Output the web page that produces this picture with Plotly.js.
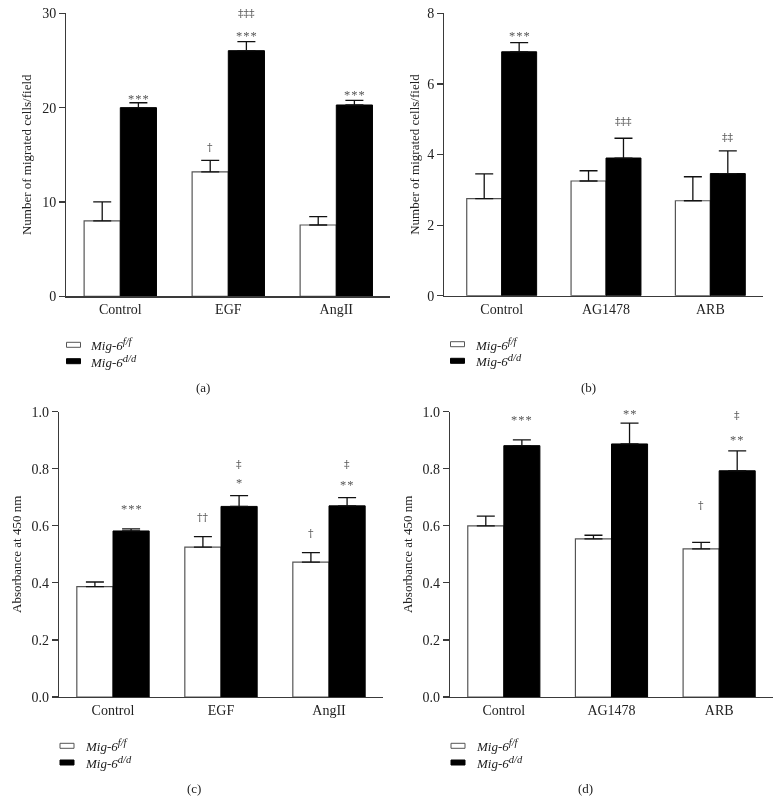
<!DOCTYPE html>
<html><head><meta charset="utf-8">
<script src="https://cdn.plot.ly/plotly-3.0.1.min.js"></script>
<style>html,body{margin:0;padding:0;background:#fff}#chart{width:782px;height:802px;filter:grayscale(1)}</style>
</head><body><div id="chart"></div>
<script>
// ---------------- DATA ----------------
const catsA = ['Control', 'EGF', 'AngII'];
const catsB = ['Control', 'AG1478', 'ARB'];
const seriesNames = ['<i>Mig-6<sup><span style="font-size:10.5px">f/f</span></sup></i>', '<i>Mig-6<sup><span style="font-size:10.5px">d/d</span></sup></i>'];

// (a) migrated cells / field
const aWhite = [8.0, 13.2, 7.56];
const aWhiteErr = [2.0, 1.2, 0.88];
const aBlack = [20.0, 26.04, 20.28];
const aBlackErr = [0.52, 0.96, 0.5];
const aSigWhite = ['', '†', ''];
const aSigBlack = ['***', '***', '***'];
const aSigBlack2 = ['', '‡‡‡', ''];

// (b) migrated cells / field
const bWhite = [2.75, 3.25, 2.69];
const bWhiteErr = [0.70, 0.29, 0.68];
const bBlack = [6.91, 3.90, 3.46];
const bBlackErr = [0.26, 0.56, 0.64];
const bSigWhite = ['', '', ''];
const bSigBlack = ['***', '‡‡‡', '‡‡'];
const bSigBlack2 = ['', '', ''];

// (c) absorbance at 450 nm
const cWhite = [0.387, 0.525, 0.473];
const cWhiteErr = [0.016, 0.037, 0.033];
const cBlack = [0.582, 0.668, 0.670];
const cBlackErr = [0.007, 0.038, 0.029];
const cSigWhite = ['', '††', '†'];
const cSigBlack = ['***', '*', '**'];
const cSigBlack2 = ['', '‡', '‡'];

// (d) absorbance at 450 nm
const dWhite = [0.600, 0.554, 0.519];
const dWhiteErr = [0.034, 0.013, 0.023];
const dBlack = [0.881, 0.887, 0.793];
const dBlackErr = [0.020, 0.073, 0.070];
const dSigWhite = ['', '', '†'];
const dSigBlack = ['***', '**', '**'];
const dSigBlack2 = ['', '', '‡'];

const yTitleA = 'Number of migrated cells/field';
const yTitleC = 'Absorbance at 450 nm';
const panelLabels = ['(a)', '(b)', '(c)', '(d)'];

// ---------------- STYLE / LAYOUT ----------------
const W = 782, H = 802;
const px = x => x / W, py = y => 1 - y / H;
const FONT = 'Liberation Serif, Times New Roman, serif';
const AX = '#3a3a3a';

const panels = [
  { cats: catsA, w: aWhite, we: aWhiteErr, b: aBlack, be: aBlackErr,
    sw: aSigWhite, sb: aSigBlack, sb2: aSigBlack2, title: yTitleA,
    xd: [66.3, 390.3], yd: [296.3, 13.3], xr: [-0.5, 2.5], yr: [0, 30], dtick: 10, fmt: 'd', standoff: 7,
    offW: [0, 13.3, 0], offB: [6, 7.2, 7], offB2: [0, 27.9, 0],
    leg: { bx: 66.5, tx: 88, y1: 344.8, y2: 361.2 }, lab: [202.5, 387] },
  { cats: catsB, w: bWhite, we: bWhiteErr, b: bBlack, be: bBlackErr,
    sw: bSigWhite, sb: bSigBlack, sb2: bSigBlack2, title: yTitleA,
    xd: [444.3, 762.5], yd: [295.7, 13.3], xr: [-0.55, 2.5], yr: [0, 8], dtick: 2, fmt: 'd', standoff: 4,
    offW: [0, 0, 0], offB: [8.5, 16.3, 13], offB2: [0, 0, 0],
    leg: { bx: 450.5, tx: 472.5, y1: 344.2, y2: 360.8 }, lab: [588, 387] },
  { cats: catsA, w: cWhite, we: cWhiteErr, b: cBlack, be: cBlackErr,
    sw: cSigWhite, sb: cSigBlack, sb2: cSigBlack2, title: yTitleC,
    xd: [59, 383], yd: [697, 411.7], xr: [-0.5, 2.5], yr: [0, 1.0], dtick: 0.2, fmt: '.1f', standoff: 7,
    offW: [0, 19.4, 19.4], offB: [22.3, 14.7, 15], offB2: [0, 30.7, 32.7],
    leg: { bx: 60, tx: 83, y1: 745.8, y2: 762.5 }, lab: [194, 788] },
  { cats: catsB, w: dWhite, we: dWhiteErr, b: dBlack, be: dBlackErr,
    sw: dSigWhite, sb: dSigBlack, sb2: dSigBlack2, title: yTitleC,
    xd: [450, 773], yd: [697, 411.7], xr: [-0.5, 2.5], yr: [0, 1.0], dtick: 0.2, fmt: '.1f', standoff: 7,
    offW: [0, 0, 37.3], offB: [21.7, 11, 12.4], offB2: [0, 0, 35],
    leg: { bx: 451, tx: 474, y1: 745.8, y2: 762.5 }, lab: [585.5, 788] }
];

const traces = [];
const layout = {
  width: W, height: H, margin: { l: 0, r: 0, t: 0, b: 0 },
  paper_bgcolor: '#fff', plot_bgcolor: '#fff',
  barmode: 'group', bargap: 0.33, bargroupgap: 0,
  showlegend: false, hovermode: false,
  font: { family: FONT, size: 13, color: '#222' },
  annotations: [], shapes: []
};

const BAR_OFF = 0.1675;
const fmtMark = t => /^\*+$/.test(t) ? t.split('').join('\u200A') : t;

panels.forEach((p, k) => {
  const n = k === 0 ? '' : String(k + 1);
  const xa = 'x' + n, ya = 'y' + n;
  const zeros = p.cats.map(() => 0);
  traces.push({
    type: 'bar', name: 'Mig-6 f/f', x: p.cats, y: p.w, xaxis: xa, yaxis: ya,
    marker: { color: '#ffffff', line: { color: '#555', width: 1.2 } },
    error_y: { type: 'data', symmetric: false, array: p.we, arrayminus: zeros, color: '#111', thickness: 1.3, width: 9 }
  });
  traces.push({
    type: 'bar', name: 'Mig-6 d/d', x: p.cats, y: p.b, xaxis: xa, yaxis: ya,
    marker: { color: '#000000', line: { color: '#000', width: 1 } },
    error_y: { type: 'data', symmetric: false, array: p.be, arrayminus: zeros, color: '#111', thickness: 1.3, width: 9 }
  });
  layout['xaxis' + n] = {
    domain: [px(p.xd[0]), px(p.xd[1])], range: p.xr, type: 'category', anchor: ya,
    showline: true, linecolor: AX, linewidth: 1.2, ticks: '', showgrid: false, zeroline: false,
    tickfont: { family: FONT, size: 14, color: '#222' }, fixedrange: true
  };
  layout['yaxis' + n] = {
    domain: [py(p.yd[0]), py(p.yd[1])], range: p.yr, anchor: xa,
    dtick: p.dtick, tick0: 0, tickformat: p.fmt,
    showline: true, linecolor: AX, linewidth: 1.2, ticks: 'outside', ticklen: 6, tickcolor: AX, tickwidth: 1.2,
    showgrid: false, zeroline: false, fixedrange: true,
    tickfont: { family: FONT, size: 14, color: '#222' },
    title: { text: p.title, font: { family: FONT, size: 13, color: '#222' }, standoff: p.standoff }
  };
  // significance marks
  const addMark = (txt, xi, yv, off) => {
    if (!txt) return;
    const isStar = /\*/.test(txt);
    layout.annotations.push({
      xref: xa, yref: ya, x: xi, y: yv, yshift: off - (isStar ? 2 : 0),
      text: fmtMark(txt), showarrow: false, xanchor: 'center', yanchor: 'middle',
      font: { family: isStar ? FONT : 'DejaVu Serif, ' + FONT, size: isStar ? 12.5 : 11, color: '#555' }
    });
  };
  p.cats.forEach((c, i) => {
    addMark(p.sw[i], i - BAR_OFF, p.w[i] + p.we[i], p.offW[i]);
    addMark(p.sb[i], i + BAR_OFF, p.b[i] + p.be[i], p.offB[i]);
    addMark(p.sb2[i], i + BAR_OFF, p.b[i] + p.be[i], p.offB2[i]);
  });
  // legend (custom)
  const L = p.leg;
  [[L.y1, '#fff', '#555', seriesNames[0]], [L.y2, '#000', '#000', seriesNames[1]]].forEach(([yy, fc, lc, txt]) => {
    layout.shapes.push({
      type: 'rect', xref: 'paper', yref: 'paper',
      x0: px(L.bx), x1: px(L.bx + 14), y0: py(yy + 2.5), y1: py(yy - 2.5),
      fillcolor: fc, line: { color: lc, width: 1 }
    });
    layout.annotations.push({
      xref: 'paper', yref: 'paper', x: px(L.tx), y: py(yy), xanchor: 'left', yanchor: 'middle',
      text: txt, showarrow: false, font: { family: FONT, size: 13, color: '#222' }
    });
  });
  layout.annotations.push({
    xref: 'paper', yref: 'paper', x: px(p.lab[0]), y: py(p.lab[1]), xanchor: 'center', yanchor: 'middle',
    text: panelLabels[k], showarrow: false, font: { family: FONT, size: 13, color: '#222' }
  });
});

Plotly.newPlot('chart', traces, layout, { staticPlot: true, displayModeBar: false });
</script>
</body></html>
